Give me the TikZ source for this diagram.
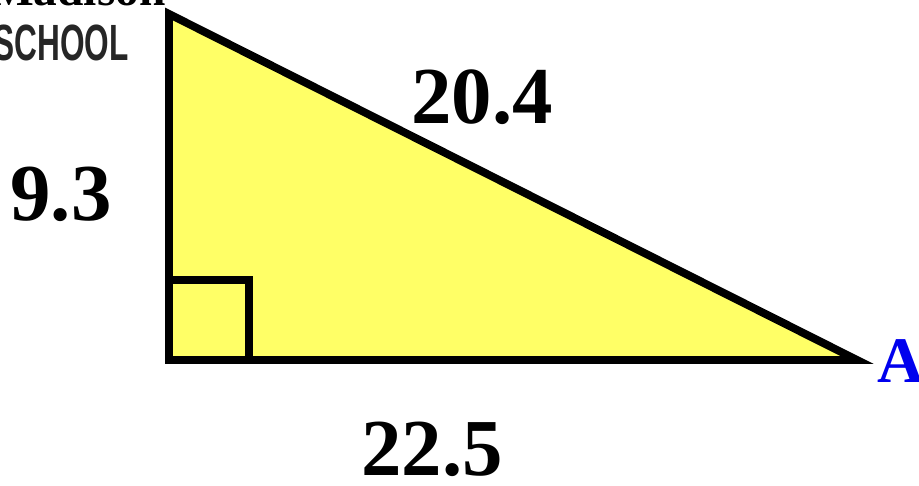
\documentclass[tikz,border=0pt]{standalone}
\usepackage{fontspec}
\setmainfont{Liberation Serif}
\newfontfamily\schoolfont{Liberation Sans}
\usepackage{xcolor}
\usepackage{tikz}
\usetikzlibrary{positioning}

\definecolor{triyellow}{HTML}{FFFF66}
\definecolor{vertblue}{HTML}{0000EE}

\begin{document}
\begin{tikzpicture}[
        x=0.02cm, y=-0.02cm,
        side/.style={line width=4.5pt, line join=miter},
        len/.style={font=\fontsize{46}{46}\selectfont\bfseries, inner sep=0pt},
        vert/.style={font=\fontsize{37}{37}\selectfont\bfseries, text=vertblue, inner sep=0pt},
    ]
        \path[use as bounding box, clip] (0,0) rectangle (919,486);

        % Corners
        \coordinate (C) at (169,360);
        \coordinate (B) at (169,14);
        \coordinate (A) at (857,360);

        % Triangle
        \filldraw[side, fill=triyellow] (C) -- (B) -- (A) -- cycle;

        % Right angle mark
        \draw[side] ([shift={(0,-80)}]C) -| ([shift={(80,0)}]C);

        % Side lengths
        \node[len] (hyp) at (482,97) {20.4};
        \node[len] (leg) at (61,194) {9.3};
        \node[len] (base) at (432,449) {22.5};

        % Vertex name
        \node[vert, anchor=west] (nameA) at (877,361) {A};

        % Cut-off school name
        \node[font=\fontsize{27}{27}\selectfont\bfseries, anchor=base east, inner sep=0pt] (madison) at (166,6) {Madison};
        \node[font=\schoolfont\fontsize{29}{29}\selectfont\bfseries, text=black!85, anchor=east, inner sep=0pt] (school) at (129,43) {\scalebox{0.62}[1]{SCHOOL}};
    \end{tikzpicture}
\end{document}
